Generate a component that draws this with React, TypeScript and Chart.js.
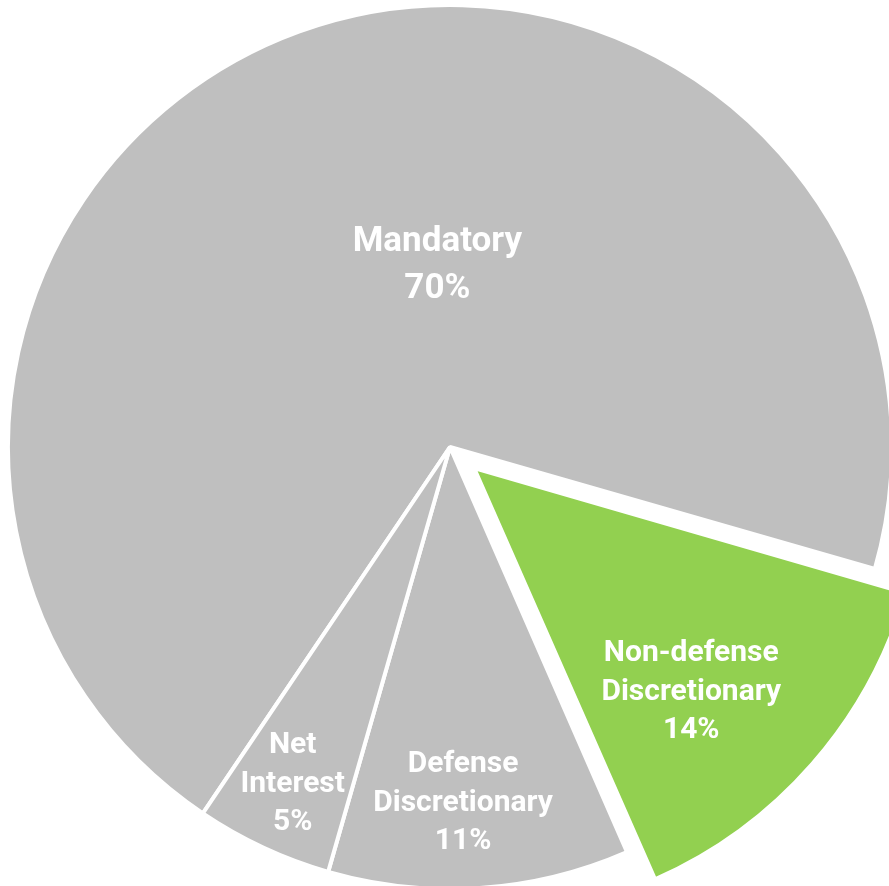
import React, { useEffect, useRef } from "react";
import { Chart, registerables } from "chart.js";

Chart.register(...registerables);

const categories = ["Mandatory", "Non-defense Discretionary", "Defense Discretionary", "Net Interest"];
const values = [70, 14, 11, 5];
const labelLines = [["Mandatory"], ["Non-defense", "Discretionary"], ["Defense", "Discretionary"], ["Net", "Interest"]];
const sliceColors = ["#BFBFBF", "#92D050", "#BFBFBF", "#BFBFBF"];
// how far each slice is pulled out, in pixels
const explode = [0, 32, 0, 0];

// label placement: fraction of radius and angle shift (degrees) from slice middle
const labelRadiusFrac = [0.41, 0.706, 0.807, 0.842];
const labelAngleShift = [16, 4.7, 1.7, 0];
const labelFontSize = [35, 30, 30, 30];
const labelLineHeight = [47, 38.5, 38.5, 38.5];

const labelPlugin = {
  id: "sliceLabels",
  afterDatasetsDraw(chart: any) {
    const meta = chart.getDatasetMeta(0);
    const ctx = chart.ctx;
    ctx.save();
    ctx.fillStyle = "#FFFFFF";
    ctx.textAlign = "center";
    ctx.textBaseline = "middle";
    meta.data.forEach((arc: any, i: number) => {
      const p = arc.getProps(["x", "y", "startAngle", "endAngle", "outerRadius"], true);
      const mid = (p.startAngle + p.endAngle) / 2;
      const off = explode[i] || 0;
      const cx = p.x + Math.cos(mid) * off;
      const cy = p.y + Math.sin(mid) * off;
      const a = mid + (labelAngleShift[i] * Math.PI) / 180;
      const d = labelRadiusFrac[i] * p.outerRadius;
      const lx = cx + Math.cos(a) * d;
      const ly = cy + Math.sin(a) * d;
      const lines = [...labelLines[i], values[i] + "%"];
      const lh = labelLineHeight[i];
      ctx.font = `bold ${labelFontSize[i]}px Roboto, "DejaVu Sans", sans-serif`;
      lines.forEach((t, j) => {
        ctx.fillText(t, lx, ly + (j - (lines.length - 1) / 2) * lh);
      });
    });
    ctx.restore();
  },
};

export default function App() {
  const ref = useRef<HTMLCanvasElement | null>(null);
  useEffect(() => {
    if (!ref.current) return;
    const chart = new Chart(ref.current, {
      type: "pie",
      data: {
        labels: categories,
        datasets: [
          {
            data: values,
            backgroundColor: sliceColors,
            borderColor: "#FFFFFF",
            borderWidth: 4,
            // Chart.js translates an arc by offset / 4
            offset: explode.map((e) => e * 4),
            hoverOffset: 0,
          } as any,
        ],
      },
      options: {
        animation: false,
        responsive: true,
        maintainAspectRatio: false,
        rotation: 214,
        radius: 442,
        layout: { padding: { left: 11, top: 8 } },
        plugins: {
          legend: { display: false },
          tooltip: { enabled: false },
        },
      } as any,
      plugins: [labelPlugin],
    });
    return () => chart.destroy();
  }, []);
  return (
    <div style={{ position: "fixed", left: 0, top: 0, width: 889, height: 886, background: "#FFFFFF" }}>
      <canvas ref={ref} />
    </div>
  );
}
